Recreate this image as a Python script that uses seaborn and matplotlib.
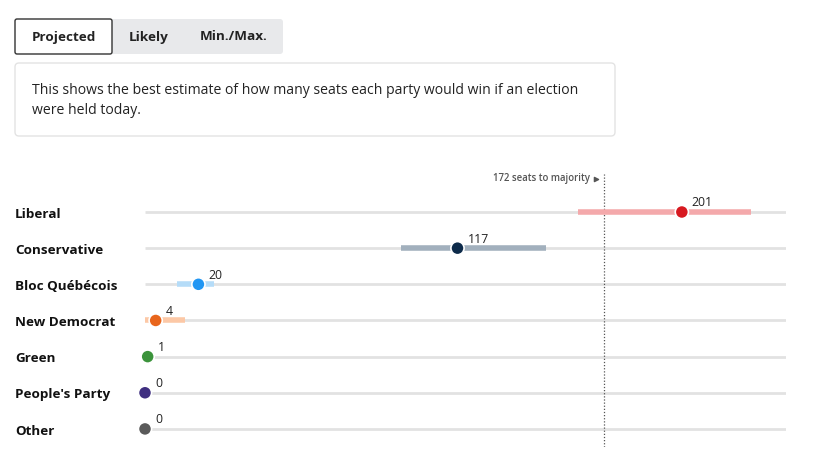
import numpy as np
import pandas as pd
import matplotlib
matplotlib.use("Agg")
import matplotlib.pyplot as plt
from matplotlib.patches import FancyBboxPatch
from matplotlib.transforms import ScaledTranslation
import seaborn as sns

# data
parties = ["Liberal", "Conservative", "Bloc Québécois", "New Democrat",
           "Green", "People's Party", "Other"]
projected = [201, 117, 20, 4, 1, 0, 0]
range_low = [162, 96, 12, 0, 1, 0, 0]
range_high = [227, 150, 26, 15, 1, 0, 0]
majority = 172
axis_max = 240

dot_colors = ["#d71920", "#0d2a4a", "#2196f3", "#e8651c", "#3b933b", "#3f2f80", "#5a5a5a"]
range_colors = ["#f4a9ab", "#a2b0bd", "#b5dcf8", "#fcc8a6", "#b9dcb9", "#bdb4d9", "#cccccc"]

df = pd.DataFrame({"party": parties, "seats": projected, "row": range(len(parties))})

sns.set_theme(style="white")
plt.rcParams["font.family"] = ["Open Sans", "DejaVu Sans"]

W, H = 817, 472
fig = plt.figure(figsize=(W / 100, H / 100), dpi=100)

# background layer in pixel coordinates for the buttons and text box
bg = fig.add_axes([0, 0, 1, 1])
bg.set_xlim(0, W)
bg.set_ylim(H, 0)
bg.axis("off")

bg.add_patch(FancyBboxPatch((15, 19), 268, 35, boxstyle="round,pad=0,rounding_size=3",
                            fc="#e8e9eb", ec="none"))
bg.add_patch(FancyBboxPatch((15, 19), 97, 35, boxstyle="round,pad=0,rounding_size=2",
                            fc="white", ec="#333333", lw=1))
bg.text(63.5, 37, "Projected", ha="center", va="center", fontsize=9.7, fontweight="bold", color="#222222")
bg.text(149, 37, "Likely", ha="center", va="center", fontsize=9.7, fontweight="bold", color="#222222")
bg.text(234, 37, "Min./Max.", ha="center", va="center", fontsize=9.7, fontweight="bold", color="#222222")

bg.add_patch(FancyBboxPatch((15, 63), 600, 73, boxstyle="round,pad=0,rounding_size=4",
                            fc="white", ec="#e3e3e3", lw=1))
bg.text(32, 90, "This shows the best estimate of how many seats each party would win if an election",
        ha="left", va="center", fontsize=10.05, color="#222222")
bg.text(32, 111, "were held today.", ha="left", va="center", fontsize=10.05, color="#222222")

# main chart
x0, x1 = 145, 786
y_top, y_bot = 165, 447
ax = fig.add_axes([x0 / W, (H - y_bot) / H, (x1 - x0) / W, (y_bot - y_top) / H])
ax.patch.set_alpha(0)
ax.set_xlim(0, axis_max)
ax.set_ylim(6.5, -1.3)
ax.axis("off")

ax.hlines(df["row"], 0, axis_max, color="#e2e2e2", lw=2, zorder=1)
ax.axvline(majority, ymin=0, ymax=(6.5 + 1.05) / 7.8, color="#555555", lw=0.9,
           ls=(0, (1, 1.5)), zorder=2)

for i in range(len(parties)):
    if range_high[i] > range_low[i]:
        ax.hlines(i, range_low[i], range_high[i], color=range_colors[i], lw=4,
                  capstyle="butt", zorder=3)

sns.scatterplot(data=df, x="seats", y="row", hue="party", palette=dot_colors,
                s=90, edgecolor="white", linewidth=1.2, legend=False, zorder=5,
                clip_on=False, ax=ax)

for i, v in enumerate(projected):
    ax.annotate(str(v), (v, i), xytext=(7.2, 6.5), textcoords="offset points",
                ha="left", va="center", fontsize=8.8, color="#222222", zorder=6)
    ax.text(-130 / (x1 - x0) * axis_max, i + 0.06, parties[i], ha="left", va="center",
            fontsize=9.7, fontweight="bold", color="#111111")

ax.annotate("172 seats to majority", (majority, -0.92), xytext=(-10.5, 0),
            textcoords="offset points", ha="right", va="center", fontsize=6.9,
            fontweight="semibold", color="#555555")
ax.scatter([majority], [-0.92], marker=">", s=9, color="#555555", zorder=6,
           transform=ax.transData + ScaledTranslation(-8 / 100, 0, fig.dpi_scale_trans),
           clip_on=False)

fig.savefig("out.png", dpi=100)
